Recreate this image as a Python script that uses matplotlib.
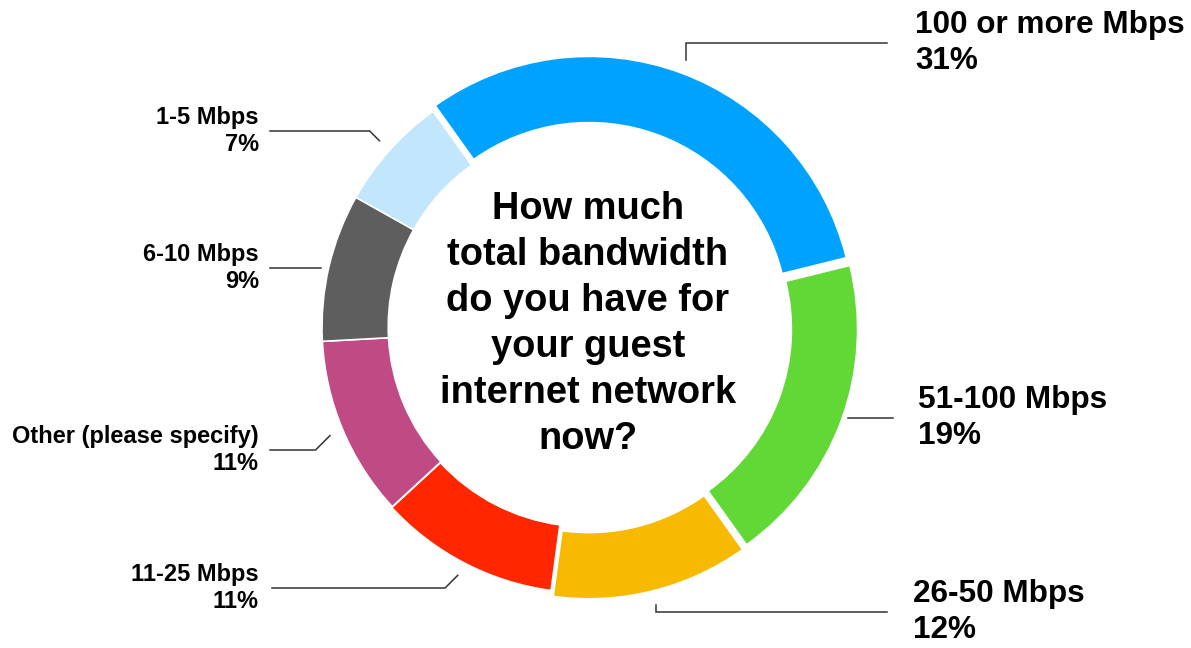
import numpy as np
import matplotlib.pyplot as plt

# survey answers, clockwise from the top
labels = ["100 or more Mbps", "51-100 Mbps", "26-50 Mbps", "11-25 Mbps",
          "Other (please specify)", "6-10 Mbps", "1-5 Mbps"]
shares = [31, 19, 12, 11, 11, 9, 7]
colors = ["#00A2FF", "#61D836", "#F8BA00", "#FF2600",
          "#C04A84", "#5E5E5E", "#C2E6FB"]
explode_px = [6, 6, 7, 1, 0, 0, 0]

question = "How much\ntotal bandwidth\ndo you have for\nyour guest\ninternet network\nnow?"

W, H = 1191, 648
cx, cy = 587, H - 327
R = 265
START = 125.5

plt.rcParams["font.family"] = ["Liberation Sans", "DejaVu Sans"]

fig = plt.figure(figsize=(W / 100, H / 100), dpi=100)
ax = fig.add_axes([0, 0, 1, 1])

# pie() takes explode in data units, so pixel offsets go in directly
ax.pie(shares, colors=colors, startangle=START, counterclock=False,
       center=(cx, cy), radius=R, explode=explode_px,
       wedgeprops=dict(width=0.25 * R, edgecolor="white", linewidth=1.2),
       frame=True)
ax.set_xlim(0, W)
ax.set_ylim(0, H)
ax.set_aspect("equal")
ax.axis("off")

ax.text(cx + 1, H - 324, question, ha="center", va="center",
        fontsize=27.4, fontweight="bold", linespacing=1.36)

# label layout: (text x, line y, line end x, side, connector style, font size)
layout = [
    (915, H - 43, 887, "right", "vertical", 22.7),
    (918, H - 418, 893, "right", "flat", 22.7),
    (913, H - 612, 887, "right", "vertical", 22.7),
    (259, H - 588, 272, "left", "diag", 17),
    (259, H - 450, 270, "left", "diag", 17),
    (259, H - 268, 270, "left", "flat", 17),
    (259, H - 131, 270, "left", "diag", 17),
]

cum = START
for lab, val, (tx, ly, lx, side, style, fs), ex in zip(labels, shares, layout, explode_px):
    mid = np.deg2rad(cum - val * 3.6 / 2)
    cum -= val * 3.6
    r = R + 14 + ex
    px, py = cx + r * np.cos(mid), cy + r * np.sin(mid)
    if style == "vertical":
        xs, ys = [px, px, lx], [py, ly, ly]
    elif style == "flat":
        xs, ys = [px - 6 * np.sign(np.cos(mid)), lx], [ly, ly]
    else:
        d = abs(py - ly)
        ex_ = px - d if side == "left" else px + d
        xs, ys = [px, ex_, lx], [py, ly, ly]
    ax.plot(xs, ys, color="#333333", lw=1.1, solid_joinstyle="miter")
    if side == "right":
        ax.text(tx, ly, f"{lab}\n{val}%", ha="left", va="center",
                fontsize=fs, fontweight="bold", linespacing=1.23)
    else:
        ax.text(tx, ly, f"{lab}\n{val}%", ha="right", va="center",
                fontsize=fs, fontweight="bold", linespacing=1.2,
                multialignment="right")

fig.savefig("out.png", dpi=100, facecolor="white")
